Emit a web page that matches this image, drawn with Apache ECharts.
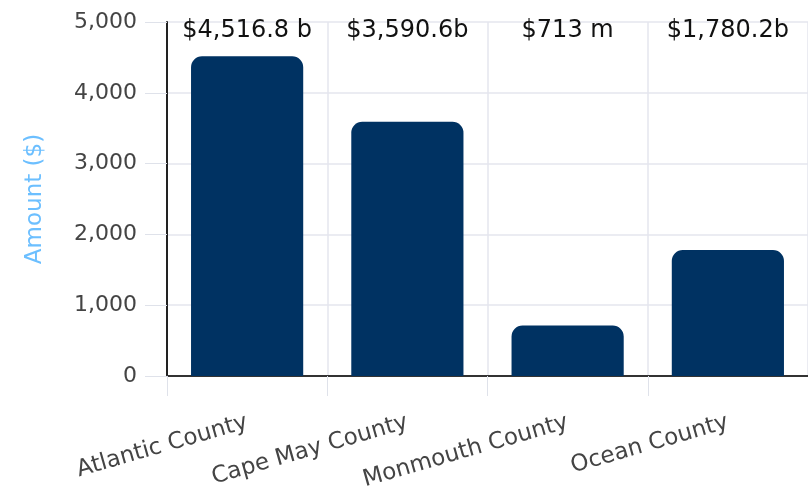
<!DOCTYPE html>
<html>
<head>
<meta charset="utf-8">
<title>Amount by County</title>
<script src="https://cdn.jsdelivr.net/npm/echarts@6/dist/echarts.min.js"></script>
<style>
  html, body { margin: 0; padding: 0; background: #fff; }
  #chart { width: 808px; height: 501px; }
</style>
</head>
<body>
<div id="chart"></div>
<script>
// County totals, in the axis unit
const counties = ['Atlantic County', 'Cape May County', 'Monmouth County', 'Ocean County'];
const amounts = [4516.8, 3590.6, 713, 1780.2];
// Unit suffix shown after each total
const unitSuffix = [' b', 'b', ' m', 'b'];
// Value axis ticks
const yTicks = [0, 1000, 2000, 3000, 4000, 5000];

const FONT = '"DejaVu Sans", sans-serif';

function fmtTotal(i) {
  const v = amounts[i];
  const s = v.toLocaleString('en-US', { maximumFractionDigits: 1 });
  return '$' + s + unitSuffix[i];
}

const chart = echarts.init(document.getElementById('chart'), null, { renderer: 'canvas' });

chart.setOption({
  animation: false,
  backgroundColor: '#ffffff',
  grid: { left: 167, right: 0, top: 22, bottom: 125, containLabel: false },
  xAxis: [
    {
      type: 'category',
      data: counties,
      position: 'bottom',
      axisLine: { show: true, lineStyle: { color: '#333333', width: 2 } },
      axisTick: { show: true, length: 20, lineStyle: { color: '#dfe2ea', width: 1 } },
      splitLine: { show: true, lineStyle: { color: '#e4e6ee', width: 1.5 } },
      axisLabel: {
        interval: 0,
        hideOverlap: false,
        rotate: 16,
        margin: 46,
        fontFamily: FONT,
        fontSize: 23,
        color: '#444444'
      }
    },
    {
      // totals printed across the top of the plot
      type: 'category',
      data: counties,
      position: 'top',
      axisLine: { show: false },
      axisTick: { show: false },
      splitLine: { show: false },
      axisLabel: {
        interval: 0,
        hideOverlap: false,
        inside: true,
        margin: -3,
        fontFamily: FONT,
        fontSize: 24,
        color: '#111111',
        formatter: (val, idx) => fmtTotal(idx)
      }
    }
  ],
  yAxis: {
    type: 'value',
    min: yTicks[0],
    max: yTicks[yTicks.length - 1],
    interval: yTicks[1] - yTicks[0],
    name: 'Amount ($)',
    nameLocation: 'middle',
    nameGap: 120,
    nameTextStyle: { color: '#6cbfff', fontFamily: FONT, fontSize: 23 },
    axisLine: { show: true, lineStyle: { color: '#222222', width: 2 } },
    axisTick: { show: true, length: 22, lineStyle: { color: '#dfe2ea', width: 1 } },
    splitLine: { show: true, lineStyle: { color: '#e4e6ee', width: 1.5 } },
    axisLabel: {
      margin: 30,
      fontFamily: FONT,
      fontSize: 22,
      color: '#444444',
      formatter: v => v.toLocaleString('en-US')
    }
  },
  series: [
    {
      type: 'bar',
      xAxisIndex: 0,
      data: amounts,
      barWidth: '70%',
      itemStyle: { color: '#003262', borderRadius: [11, 11, 0, 0] }
    }
  ]
});
</script>
</body>
</html>
